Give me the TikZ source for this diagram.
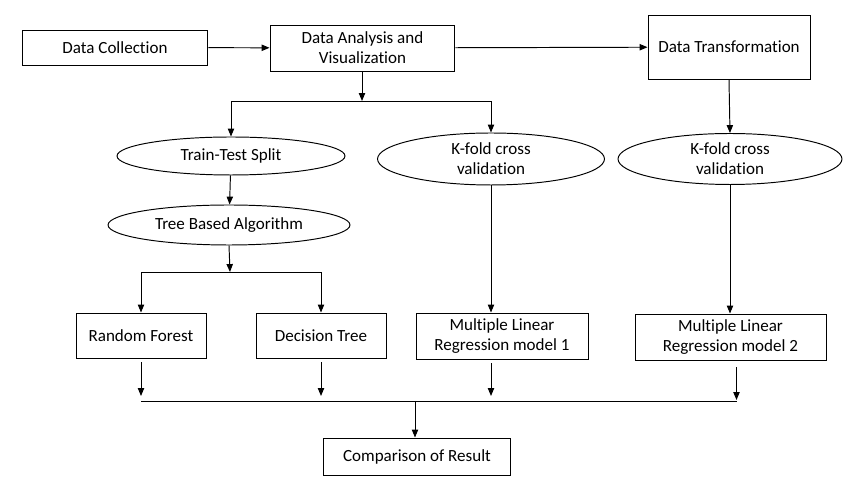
\documentclass[tikz,border=0pt]{standalone}
\usepackage{fontspec}
\setmainfont{Carlito}[Ligatures=NoCommon]
\usetikzlibrary{arrows.meta, shapes.geometric, positioning, calc}

\begin{document}
\begin{tikzpicture}[
  x=0.02cm, y=-0.02cm,
  line width=0.55pt,
  box/.style={draw, rectangle, inner sep=1pt, align=center,
              font=\fontsize{9.7}{11.5}\selectfont},
  oval/.style={draw, ellipse, inner sep=0pt, align=center,
               font=\fontsize{9.7}{11.5}\selectfont},
  arr/.style={-{Triangle[length=4.5pt,width=3.6pt]}}
]
  \useasboundingbox (0,0) rectangle (850,482);

  % top row
  \node[box, minimum width=3.72cm, minimum height=0.70cm] (collect) at (115,47.5) {Data Collection};
  \node[box, minimum width=3.70cm, minimum height=0.92cm] (analysis) at (362.5,48) {Data Analysis and\\Visualization};
  \node[box, minimum width=3.24cm, minimum height=1.28cm] (transform) at (729,47) {Data Transformation};

  % ovals
  \node[oval, minimum width=4.56cm, minimum height=0.76cm] (split) at (231,156) {Train-Test Split};
  \node[oval, minimum width=4.54cm, minimum height=1.04cm] (kfoldA) at (491,159) {K-fold cross\\validation};
  \node[oval, minimum width=4.48cm, minimum height=1.02cm] (kfoldB) at (730,159) {K-fold cross\\validation};
  \node[oval, minimum width=4.84cm, minimum height=0.80cm] (tree) at (229,225) {Tree Based Algorithm};

  % models
  \node[box, minimum width=2.60cm, minimum height=0.90cm] (forest) at (141,335.5) {Random Forest};
  \node[box, minimum width=2.60cm, minimum height=0.90cm] (dtree) at (321,335.5) {Decision Tree};
  \node[box, minimum width=3.44cm, minimum height=0.92cm] (mlrA) at (502,336) {Multiple Linear\\Regression model 1};
  \node[box, minimum width=3.82cm, minimum height=0.92cm] (mlrB) at (730.5,337) {Multiple Linear\\Regression model 2};

  \node[box, minimum width=3.76cm, minimum height=0.74cm] (result) at (417,456.5) {Comparison of Result};

  % junction points
  \coordinate (fork1) at (362,101);
  \coordinate (fork2) at (230,272);
  \coordinate (join) at (415,401);

  \draw[arr] (collect) -- (analysis);
  \draw[arr] (analysis) -- (transform);
  \draw[arr] (analysis.south -| fork1) -- (fork1);
  \draw[arr] (fork1) -| (split.north);
  \draw[arr] (fork1) -| (kfoldA.north);
  \draw[arr] (split) -- (tree);
  \draw[arr] (tree.south) -- (fork2);
  \draw[arr] (fork2) -| (forest.north);
  \draw[arr] (fork2) -| (dtree.north);
  \draw[arr] (kfoldA.south) -- (kfoldA.south |- mlrA.north);
  \draw[arr] (transform.south) -- (kfoldB.north);
  \draw[arr] (kfoldB.south) -- (kfoldB.south |- mlrB.north);

  % collecting line
  \draw (forest.south |- join) -- ($(mlrB.south |- join)+(6,0)$);
  \draw[arr] ([yshift=-0.08cm]forest.south) -- ([yshift=0.1cm]forest.south |- join);
  \draw[arr] ([yshift=-0.08cm]dtree.south) -- ([yshift=0.1cm]dtree.south |- join);
  \draw[arr] ([yshift=-0.08cm]mlrA.south -| kfoldA.south) -- ([yshift=0.1cm]kfoldA.south |- join);
  \draw[arr] ([xshift=0.12cm,yshift=-0.14cm]mlrB.south) -- ([xshift=0.12cm,yshift=0.02cm]mlrB.south |- join);
  \draw[arr] (join) -- (result.north -| join);
\end{tikzpicture}
\end{document}
